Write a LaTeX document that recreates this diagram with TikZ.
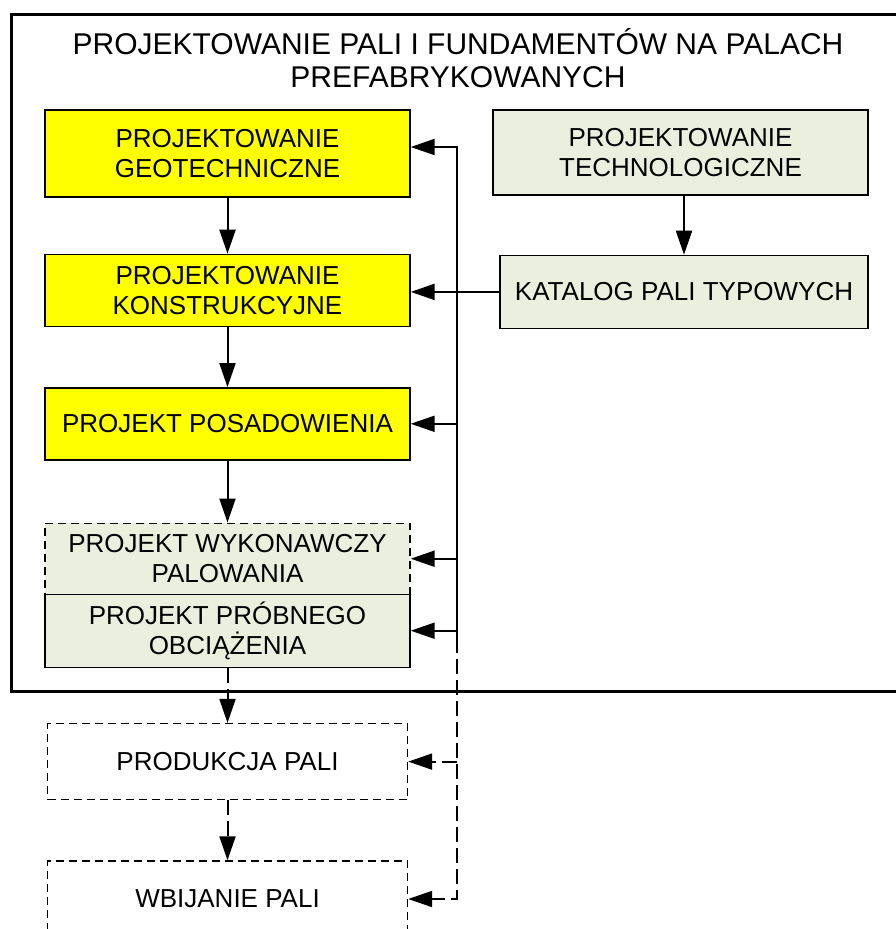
\documentclass[tikz,border=0pt]{standalone}
\usepackage{fontspec}
\setmainfont{Liberation Sans}
\usepackage{xcolor}
\usepackage{tikz}
\usetikzlibrary{positioning, arrows.meta}

\definecolor{pyellow}{RGB}{255,255,0}
\definecolor{pgreen}{RGB}{235,240,222}

\begin{document}
\begin{tikzpicture}[
      x=1pt, y=-1pt,
      box/.style={draw, line width=1.4pt, align=center, inner sep=0pt, minimum width=365pt, minimum height=72pt,
        font=\fontsize{26}{29.5}\selectfont},
      geobox/.style={box, fill=pyellow},
      techbox/.style={box, fill=pgreen},
      planbox/.style={box, dashed, dash pattern=on 8pt off 5pt},
      arr/.style={line width=2pt, -{Triangle[length=24pt, width=16pt]}},
      darr/.style={arr, dash pattern=on 15pt off 6pt}
    ]
    \useasboundingbox (0,0) rectangle (896,929);

    % outer frame and title
    \node[draw, line width=2.5pt, anchor=north west, minimum width=900pt, minimum height=677pt] (frame) at (10,13) {};
    \node[align=center, font=\fontsize{30}{33.5}\selectfont] (title) at (458,58)
      {PROJEKTOWANIE PALI I FUNDAMENTÓW NA PALACH\\PREFABRYKOWANYCH};

    % left column
    \node[geobox, minimum height=87pt] (geo) at (227.5,153.5) {PROJEKTOWANIE\\GEOTECHNICZNE};
    \node[geobox, below=56pt of geo] (konstr) {PROJEKTOWANIE\\KONSTRUKCYJNE};
    \node[geobox, below=60pt of konstr] (posad) {PROJEKT POSADOWIENIA};
    \node[techbox, planbox, below=62pt of posad, minimum height=71pt] (wykon) {PROJEKT WYKONAWCZY\\PALOWANIA};
    \node[techbox, below=-1.4pt of wykon, minimum height=73pt] (probn) {PROJEKT PRÓBNEGO\\OBCIĄŻENIA};
    \node[planbox, below=55pt of probn, minimum width=360pt, minimum height=76pt] (prod) {PRODUKCJA PALI};
    \node[planbox, below=60pt of prod, minimum width=360pt, minimum height=76pt] (wbij) {WBIJANIE PALI};

    % right column
    \node[techbox, minimum width=375pt, minimum height=85pt] (tech) at (680.5,152.5) {PROJEKTOWANIE\\TECHNOLOGICZNE};
    \node[techbox, below=59pt of tech.south east, anchor=north east, minimum width=368pt, minimum height=73pt] (katalog) {KATALOG PALI TYPOWYCH};

    \coordinate (bustop) at (457,147);
    \coordinate (bussplit) at (457,638);

    \draw[arr] (geo) -- (konstr);
    \draw[arr] (konstr) -- (posad);
    \draw[arr] (posad) -- (wykon);
    \draw[darr] (probn) -- (prod);
    \draw[darr] (prod) -- (wbij);
    \draw[arr] (tech.south -| katalog) -- (katalog.north);
    \draw[arr] (katalog.west) -- (katalog.west -| konstr.east);

    \draw[arr] (bussplit) |- ([yshift=6.5pt]geo.east);
    \draw[arr] (posad.east -| bustop) -- (posad.east);
    \draw[arr] (wykon.east -| bustop) -- (wykon.east);
    \draw[arr] (probn.east -| bustop) -- (probn.east);
    \draw[darr] (prod.east -| bustop) -- (prod.east);
    \draw[darr] (bussplit) |- (wbij.east);
  \end{tikzpicture}
\end{document}
